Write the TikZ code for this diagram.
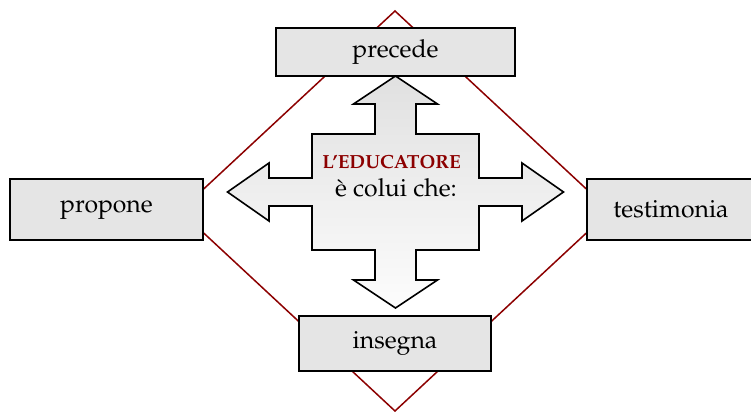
\documentclass[tikz,border=0pt]{standalone}
\usepackage[T1]{fontenc}
\usepackage{mathpazo}
\usepackage{tikz}
\usetikzlibrary{shapes,arrows,positioning}
\definecolor{boxgray}{rgb}{.9,.9,.9}
\definecolor{darkred}{rgb}{.55,0,0}
\def\Who{L'EDUCATORE}

\begin{document}
\begin{tikzpicture}[% 1 unit = one pixel of the reference, y grows downwards
					x=0.5pt,y=-0.5pt,
					every node/.style={
						align=center,		% so that "\\" works inside a node
						font=\fontsize{12.4}{14}\selectfont
						},
					verb/.style={rectangle,line width=1pt,draw=black,fill=boxgray,inner sep=0pt},
					diam/.style={draw=darkred,line width=0.75pt},
					cross/.style={draw=black,line width=0.8pt,line join=miter,top color=black!12,bottom color=black!1}
					]
\useasboundingbox (0,0) rectangle (751,412);
% corners of the diamond
\coordinate (T) at (395,11);
\coordinate (R) at (610,211);
\coordinate (B) at (395,411);
\coordinate (L) at (180,211);
\draw[diam] (T) -- (R) -- (B) -- (L) -- cycle;
% the four actions
\node[verb,minimum width=119.5pt,minimum height=24pt](P1) at (395.5,52){precede};
\node[verb,minimum width=96.5pt,minimum height=30.5pt](P2) at (106.5,209.5){propone};
\node[verb,minimum width=84pt,minimum height=30.5pt](P3) at (671,209.5){testimonia};
\node[verb,minimum width=96pt,minimum height=27.5pt](P4) at (395,343.5){insegna};
% four-way arrow in the middle
\coordinate (C) at (395.5,192);
\begin{scope}[shift={(C)}]
\draw[cross] (0,-116) -- (42,-88) -- (20.5,-88) -- (20.5,-58) -- (83.5,-58) -- (83.5,-14)
	-- (126.5,-14) -- (126.5,-29) -- (168,0) -- (126.5,29) -- (126.5,14) -- (83.5,14)
	-- (83.5,58) -- (20.5,58) -- (20.5,88) -- (42,88) -- (0,116) -- (-42,88) -- (-20.5,88)
	-- (-20.5,58) -- (-83.5,58) -- (-83.5,14) -- (-126.5,14) -- (-126.5,29) -- (-168,0)
	-- (-126.5,-29) -- (-126.5,-14) -- (-83.5,-14) -- (-83.5,-58) -- (-20.5,-58)
	-- (-20.5,-88) -- (-42,-88) -- cycle;
\end{scope}
\node[anchor=base,text=darkred,font=\fontsize{9.5}{11}\selectfont\bfseries](E) at (391.5,168.5){\Who};
\node[anchor=base](E2) at (396,196){\`e colui che:};
\end{tikzpicture}
\end{document}
